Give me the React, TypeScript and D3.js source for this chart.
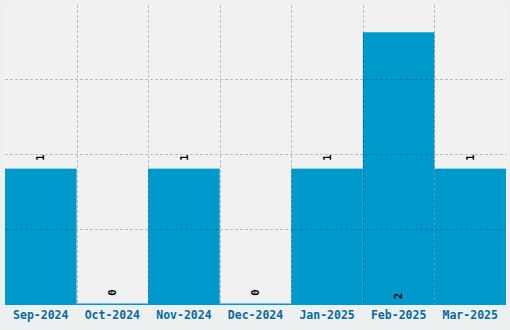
import React from "react";
import * as d3 from "d3";

const categories = ["Sep-2024", "Oct-2024", "Nov-2024", "Dec-2024", "Jan-2025", "Feb-2025", "Mar-2025"];
const values = [1, 0, 1, 0, 1, 2, 1];
const gridDivisions = [0, 1, 2, 3, 4];

const W = 510, H = 330;
const plot = { left: 5, top: 5, right: 506, bottom: 305 };

export default function App() {
  const x = d3.scaleBand<string>().domain(categories).range([plot.left, plot.right]).padding(0);
  const yMax = 2.2;
  const y = d3.scaleLinear().domain([0, yMax]).range([plot.bottom, plot.top]);
  const gy = d3.scaleLinear().domain([0, 4]).range([plot.bottom, plot.top]);
  const maxV = d3.max(values) as number;
  const mono = "'DejaVu Sans Mono', 'Liberation Mono', monospace";
  return (
    <svg width={W} height={H} style={{ position: "absolute", left: 0, top: 0 }}>
      <rect x={0} y={0} width={W} height={H} fill="#ecf0f1" />
      <rect x={plot.left} y={plot.top} width={plot.right - plot.left} height={plot.bottom - plot.top} fill="#f1f1f1" />
      {values.map((v, i) => {
        const top = Math.min(y(v), plot.bottom - 1.5);
        return (
          <rect key={i} x={x(categories[i])} y={top} width={x.bandwidth()} height={plot.bottom - top} fill="#0099cc" />
        );
      })}
      {gridDivisions.slice(1, 4).map((g) => (
        <line key={"h" + g} x1={plot.left} x2={plot.right} y1={Math.round(gy(g)) - 0.5} y2={Math.round(gy(g)) - 0.5}
          stroke="rgba(0,0,0,0.22)" strokeDasharray="3,2" />
      ))}
      {categories.slice(1).map((c) => (
        <line key={"v" + c} x1={Math.round(x(c)!) + 0.5} x2={Math.round(x(c)!) + 0.5} y1={plot.top} y2={plot.bottom}
          stroke="rgba(0,0,0,0.22)" strokeDasharray="3,2" />
      ))}
      {values.map((v, i) => {
        const cx = x(categories[i])! + x.bandwidth() / 2;
        const top = Math.min(y(v), plot.bottom - 1.5);
        const cy = v === maxV ? plot.bottom - 9 : top - 11;
        return (
          <text key={"l" + i} transform={`translate(${cx},${cy}) rotate(-90)`} textAnchor="middle" dy="0.35em"
            fontFamily={mono} fontWeight="bold" fontSize={10.5} fill="#000">{v}</text>
        );
      })}
      {categories.map((c) => (
        <text key={"t" + c} x={x(c)! + x.bandwidth() / 2} y={319} textAnchor="middle"
          fontFamily={mono} fontWeight="bold" fontSize={11.5} fill="#0b6a9c">{c}</text>
      ))}
    </svg>
  );
}
